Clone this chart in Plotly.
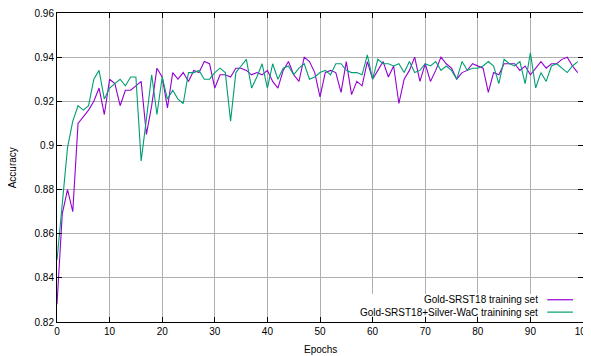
import plotly.graph_objects as go

epochs = list(range(100))

gold = [0.828, 0.869, 0.880, 0.870, 0.910, 0.913, 0.916, 0.920, 0.926, 0.914,
        0.930, 0.928, 0.918, 0.925, 0.925, 0.927, 0.929, 0.905, 0.918, 0.935,
        0.931, 0.917, 0.933, 0.930, 0.933, 0.929, 0.934, 0.933, 0.938, 0.937,
        0.926, 0.932, 0.932, 0.931, 0.935, 0.935, 0.934, 0.932, 0.933, 0.932,
        0.934, 0.929, 0.926, 0.934, 0.938, 0.932, 0.929, 0.940, 0.938, 0.933,
        0.922, 0.933, 0.934, 0.933, 0.924, 0.938, 0.923, 0.929, 0.927, 0.938,
        0.930, 0.934, 0.938, 0.931, 0.936, 0.919, 0.930, 0.934, 0.940, 0.929,
        0.937, 0.929, 0.934, 0.940, 0.937, 0.935, 0.930, 0.933, 0.934, 0.937,
        0.936, 0.935, 0.924, 0.933, 0.932, 0.937, 0.937, 0.937, 0.934, 0.936,
        0.932, 0.935, 0.938, 0.935, 0.937, 0.937, 0.939, 0.940, 0.936, 0.933]

gold_silver = [0.848, 0.875, 0.899, 0.911, 0.918, 0.916, 0.918, 0.930, 0.934, 0.921,
               0.926, 0.928, 0.930, 0.927, 0.931, 0.931, 0.893, 0.912, 0.932, 0.914,
               0.931, 0.921, 0.925, 0.921, 0.919, 0.933, 0.933, 0.934, 0.930, 0.930,
               0.933, 0.935, 0.933, 0.911, 0.933, 0.936, 0.939, 0.926, 0.931, 0.937,
               0.926, 0.937, 0.930, 0.935, 0.936, 0.932, 0.935, 0.937, 0.930, 0.931,
               0.933, 0.934, 0.932, 0.937, 0.937, 0.934, 0.933, 0.933, 0.932, 0.941,
               0.930, 0.939, 0.937, 0.937, 0.936, 0.937, 0.933, 0.938, 0.933, 0.934,
               0.937, 0.936, 0.938, 0.934, 0.936, 0.934, 0.930, 0.938, 0.934, 0.935,
               0.935, 0.936, 0.938, 0.936, 0.928, 0.939, 0.937, 0.936, 0.938, 0.928,
               0.942, 0.926, 0.933, 0.929, 0.936, 0.937, 0.935, 0.933, 0.936, 0.938]

series_names = ["Gold-SRST18 training set", "Gold-SRST18+Silver-WaC trainining set"]
series_colors = ["#9400d3", "#009e73"]

x_ticks = [0, 10, 20, 30, 40, 50, 60, 70, 80, 90, 100]
y_ticks = [0.82, 0.84, 0.86, 0.88, 0.90, 0.92, 0.94, 0.96]
y_tick_text = ["0.82", "0.84", "0.86", "0.88", "0.9", "0.92", "0.94", "0.96"]

FONT = "Liberation Sans, Arial, Helvetica, sans-serif"

fig = go.Figure()
for vals, name, col in zip([gold, gold_silver], series_names, series_colors):
    fig.add_trace(go.Scatter(x=epochs, y=vals, mode="lines", name=name,
                             line=dict(color=col, width=1.1), showlegend=False))

# legend box (gnuplot style: text then sample), white background hides grid
fig.add_shape(type="rect", xref="paper", yref="paper", x0=0.585, x1=0.995, y0=0.019, y1=0.091,
              fillcolor="white", line=dict(width=0), layer="above")
rows_y = [0.072, 0.032]
for name, col, yy in zip(series_names, series_colors, rows_y):
    fig.add_annotation(xref="paper", yref="paper", x=0.918, y=yy, text=name,
                       showarrow=False, xanchor="right", yanchor="middle",
                       font=dict(family=FONT, size=10, color="black"))
    fig.add_shape(type="line", xref="paper", yref="paper", x0=0.932, x1=0.981, y0=yy, y1=yy,
                  line=dict(color=col, width=1.2), layer="above")

# axis titles
fig.add_annotation(xref="paper", yref="paper", x=0.5, y=-0.09, text="Epochs", showarrow=False,
                   xanchor="center", yanchor="middle", font=dict(family=FONT, size=10, color="black"))
fig.add_annotation(xref="paper", yref="paper", x=-0.084, y=0.5, text="Accuracy", showarrow=False,
                   textangle=-90, xanchor="center", yanchor="middle",
                   font=dict(family=FONT, size=10, color="black"))

axis_common = dict(showline=True, linecolor="black", linewidth=1, mirror="ticks",
                   ticks="inside", ticklen=5, tickcolor="black", tickwidth=1,
                   showgrid=True, gridcolor="#b0b0b0", gridwidth=1, zeroline=False,
                   automargin=False, ticklabeloverflow="allow",
                   tickfont=dict(family=FONT, size=10, color="black"))

fig.update_xaxes(range=[0, 100], tickvals=x_ticks, **axis_common)
fig.update_yaxes(range=[0.82, 0.96], tickvals=y_ticks, ticktext=y_tick_text, **axis_common)

# the page body has an 8px default margin, so the figure is 8px smaller and shifted
fig.update_layout(width=583, height=348, margin=dict(l=49, r=8, t=5, b=34),
                  plot_bgcolor="white", paper_bgcolor="white",
                  font=dict(family=FONT, size=10, color="black"))

fig.write_html("out.html")
